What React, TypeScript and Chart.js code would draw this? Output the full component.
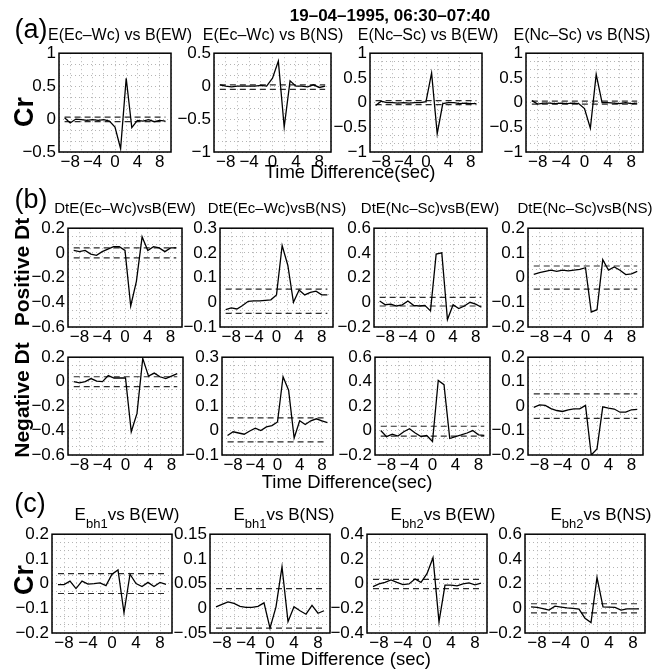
import React, { useEffect, useRef } from "react";
import { Chart, registerables } from "chart.js";
Chart.register(...registerables);

const FONT = "'Liberation Sans', Arial, Helvetica, sans-serif";

// ---- data ----
const LAGS = [-9, -8, -7, -6, -5, -4, -3, -2, -1, 0, 1, 2, 3, 4, 5, 6, 7, 8, 9];
const X_GRID = [-10, -8, -6, -4, -2, 0, 2, 4, 6, 8, 10];
const X_TICK_LABELS = [-8, -4, 0, 4, 8];

const MAIN_TITLE = "19–04–1995, 06:30–07:40";

// (a) cross-correlation
const A1 = [0.02, -0.06, 0.0, -0.01, -0.02, -0.01, -0.02, -0.01, -0.03, -0.12, -0.45, 0.62, -0.13, -0.02, -0.03, -0.01, -0.04, -0.02, -0.03];
const A2 = [0.02, 0.0, -0.01, 0.0, 0.0, 0.0, 0.0, 0.01, 0.0, 0.12, 0.38, -0.62, 0.08, 0.0, 0.0, -0.01, 0.02, -0.02, 0.0];
const A3 = [-0.06, 0.03, 0.0, 0.0, -0.01, 0.0, -0.01, 0.0, 0.0, 0.02, 0.6, -0.63, -0.02, 0.0, 0.0, -0.02, -0.01, -0.02, -0.02];
const A4 = [0.04, -0.03, -0.01, -0.01, -0.02, -0.01, -0.02, -0.01, -0.02, -0.12, -0.52, 0.57, 0.0, 0.0, -0.01, -0.02, 0.0, -0.02, -0.01];
const SIG_A1 = [0.03, -0.04];
const SIG_A2 = [0.02, -0.05];
const SIG_A3 = [0.04, -0.04];
const SIG_A4 = [0.03, -0.03];

// (b) positive Dt
const BP1 = [0.02, 0.01, 0.02, -0.01, -0.02, 0.01, 0.03, 0.05, 0.05, 0.02, -0.43, -0.23, 0.13, 0.02, 0.05, 0.04, 0.01, 0.04, 0.04];
const BP2 = [-0.03, -0.023, -0.027, -0.013, 0.004, 0.006, 0.006, 0.008, 0.01, 0.03, 0.23, 0.15, 0.0, 0.05, 0.03, 0.04, 0.045, 0.03, 0.03];
const BP3 = [0.01, -0.02, -0.015, -0.03, -0.02, 0.01, -0.025, -0.03, -0.025, -0.07, 0.39, 0.4, -0.14, -0.02, -0.05, -0.03, 0.0, -0.015, -0.04];
const BP4 = [0.013, 0.02, 0.025, 0.03, 0.025, 0.03, 0.027, 0.03, 0.033, 0.04, -0.14, -0.13, 0.073, 0.03, 0.043, 0.03, 0.012, 0.015, 0.025];
const SIG_BP1 = [0.04, -0.04];
const SIG_BP2 = [0.053, -0.045];
const SIG_BP3 = [0.04, -0.03];
const SIG_BP4 = [0.047, -0.047];

// (b) negative Dt
const BN1 = [0.0, -0.01, 0.0, 0.025, 0.005, 0.0, 0.05, 0.03, 0.03, 0.03, -0.41, -0.26, 0.19, 0.045, 0.07, 0.04, 0.025, 0.045, 0.065];
const BN2 = [-0.02, -0.005, -0.01, -0.015, -0.002, 0.01, 0.0, 0.015, 0.02, 0.035, 0.22, 0.165, -0.03, 0.04, 0.025, 0.04, 0.048, 0.04, 0.032];
const BN3 = [0.0, -0.05, -0.03, -0.045, -0.01, 0.015, -0.02, -0.05, -0.04, -0.09, 0.41, 0.375, -0.065, -0.05, -0.036, -0.02, 0.0, -0.035, -0.04];
const BN4 = [-0.005, 0.005, 0.003, -0.01, -0.018, -0.022, -0.015, -0.011, -0.011, 0.003, -0.2, -0.175, -0.003, -0.008, -0.012, -0.025, -0.025, -0.015, -0.013];
const SIG_BN1 = [0.04, -0.04];
const SIG_BN2 = [0.052, -0.046];
const SIG_BN3 = [0.035, -0.045];
const SIG_BN4 = [0.05, -0.05];

// (c)
const C1 = [-0.004, -0.004, 0.01, -0.02, 0.01, -0.002, 0.0, 0.003, -0.008, 0.038, 0.055, -0.118, 0.038, 0.0, -0.012, 0.005, -0.012, 0.005, -0.003];
const C2 = [0.003, 0.008, 0.013, 0.01, 0.004, 0.002, 0.002, 0.004, 0.011, -0.04, 0.003, 0.084, -0.027, 0.003, -0.005, -0.012, 0.006, -0.01, -0.005];
const C3 = [-0.024, -0.003, 0.01, 0.03, 0.01, -0.008, -0.003, 0.037, 0.01, 0.08, 0.21, -0.31, -0.013, -0.012, -0.018, -0.003, 0.005, -0.01, 0.003];
const C4 = [0.012, 0.007, -0.003, -0.015, 0.017, 0.01, 0.004, 0.0, -0.007, -0.08, -0.115, 0.25, 0.012, 0.01, 0.007, -0.015, -0.004, -0.004, -0.004];
const SIG_C1 = [0.04, -0.04];
const SIG_C2 = [0.04, -0.04];
const SIG_C3 = [0.035, -0.04];
const SIG_C4 = [0.037, -0.037];

// y ticks
const YT_A1 = [-0.5, 0, 0.5, 1];
const YL_A1 = ["−0.5", "0", "0.5", "1"];
const YT_A2 = [-1, -0.5, 0, 0.5];
const YL_A2 = ["−1", "−0.5", "0", "0.5"];
const YT_A34 = [-1, -0.5, 0, 0.5, 1];
const YL_A34 = ["−1", "−0.5", "0", "0.5", "1"];
const YT_B1 = [-0.6, -0.4, -0.2, 0, 0.2];
const YL_B1 = ["−0.6", "−0.4", "−0.2", "0", "0.2"];
const YT_B2 = [-0.1, 0, 0.1, 0.2, 0.3];
const YL_B2 = ["−0.1", "0", "0.1", "0.2", "0.3"];
const YT_B3 = [-0.2, 0, 0.2, 0.4, 0.6];
const YL_B3 = ["−0.2", "0", "0.2", "0.4", "0.6"];
const YT_B4 = [-0.2, -0.1, 0, 0.1, 0.2];
const YL_B4 = ["−0.2", "−0.1", "0", "0.1", "0.2"];
const YT_C2 = [-0.05, 0, 0.05, 0.1, 0.15];
const YL_C2 = ["−.05", "0", "0.05", "0.1", "0.15"];
const YT_C3 = [-0.4, -0.2, 0, 0.2, 0.4];
const YL_C3 = ["−0.4", "−0.2", "0", "0.2", "0.4"];

// ---- layout ----
const PAD_L = 52, PAD_T = 12, PAD_R = 12, PAD_B = 24;

type Panel = {
  data: number[]; sig: number[]; yt: number[]; yl: string[];
  left: number; top: number; right: number; bottom: number;
};

const PANELS: Panel[] = [
  { data: A1, sig: SIG_A1, yt: YT_A1, yl: YL_A1, left: 59, right: 171, top: 52, bottom: 152 },
  { data: A2, sig: SIG_A2, yt: YT_A2, yl: YL_A2, left: 214, right: 331, top: 52, bottom: 152 },
  { data: A3, sig: SIG_A3, yt: YT_A34, yl: YL_A34, left: 370, right: 482, top: 52, bottom: 152 },
  { data: A4, sig: SIG_A4, yt: YT_A34, yl: YL_A34, left: 526, right: 643, top: 52, bottom: 152 },
  { data: BP1, sig: SIG_BP1, yt: YT_B1, yl: YL_B1, left: 68, right: 182, top: 227, bottom: 327 },
  { data: BP2, sig: SIG_BP2, yt: YT_B2, yl: YL_B2, left: 220, right: 333, top: 227, bottom: 327 },
  { data: BP3, sig: SIG_BP3, yt: YT_B3, yl: YL_B3, left: 374, right: 487, top: 227, bottom: 327 },
  { data: BP4, sig: SIG_BP4, yt: YT_B4, yl: YL_B4, left: 528, right: 643, top: 227, bottom: 327 },
  { data: BN1, sig: SIG_BN1, yt: YT_B1, yl: YL_B1, left: 68, right: 183, top: 356, bottom: 455 },
  { data: BN2, sig: SIG_BN2, yt: YT_B2, yl: YL_B2, left: 222, right: 333, top: 356, bottom: 455 },
  { data: BN3, sig: SIG_BN3, yt: YT_B3, yl: YL_B3, left: 375, right: 490, top: 356, bottom: 455 },
  { data: BN4, sig: SIG_BN4, yt: YT_B4, yl: YL_B4, left: 528, right: 643, top: 356, bottom: 455 },
  { data: C1, sig: SIG_C1, yt: YT_B4, yl: YL_B4, left: 52, right: 172, top: 533, bottom: 633 },
  { data: C2, sig: SIG_C2, yt: YT_C2, yl: YL_C2, left: 210, right: 330, top: 533, bottom: 633 },
  { data: C3, sig: SIG_C3, yt: YT_C3, yl: YL_C3, left: 367, right: 487, top: 533, bottom: 633 },
  { data: C4, sig: SIG_C4, yt: YT_B3, yl: YL_B3, left: 525, right: 645, top: 533, bottom: 633 },
];

const framePlugin = {
  id: "frame",
  afterDraw(chart: any) {
    const { ctx, chartArea } = chart;
    const { left, top, right, bottom } = chartArea;
    ctx.save();
    ctx.strokeStyle = "#000";
    ctx.lineWidth = 1.5;
    ctx.strokeRect(left, top, right - left, bottom - top);
    ctx.restore();
  },
};

function fmtX(v: number) {
  return v < 0 ? "−" + Math.abs(v) : String(v);
}

function PanelChart({ p }: { p: Panel }) {
  const ref = useRef<HTMLCanvasElement>(null);
  const W = p.right - p.left + PAD_L + PAD_R;
  const H = p.bottom - p.top + PAD_T + PAD_B;
  useEffect(() => {
    const yMin = p.yt[0];
    const yMax = p.yt[p.yt.length - 1];
    const major = p.yt[1] - p.yt[0];
    const nMinor = Math.round((yMax - yMin) / (major / 3));
    const yGrid: number[] = [];
    for (let i = 0; i <= nMinor; i++) yGrid.push(yMin + (i * (yMax - yMin)) / nMinor);
    const x0 = LAGS[0], x1 = LAGS[LAGS.length - 1];
    const chart = new Chart(ref.current!, {
      type: "line",
      data: {
        datasets: [
          {
            data: LAGS.map((x, i) => ({ x, y: p.data[i] })),
            borderColor: "#000",
            borderWidth: 1.3,
            pointRadius: 0,
            tension: 0,
            order: 0,
          },
          {
            data: [{ x: x0, y: p.sig[0] }, { x: x1, y: p.sig[0] }],
            borderColor: "#2a2a2a",
            borderWidth: 1.2,
            borderDash: [6, 4],
            pointRadius: 0,
            order: 1,
          },
          {
            data: [{ x: x0, y: p.sig[1] }, { x: x1, y: p.sig[1] }],
            borderColor: "#2a2a2a",
            borderWidth: 1.2,
            borderDash: [6, 4],
            pointRadius: 0,
            order: 1,
          },
        ],
      },
      options: {
        animation: false,
        responsive: false,
        devicePixelRatio: 1,
        layout: { padding: { left: 0, top: PAD_T, right: PAD_R, bottom: 0 } },
        plugins: { legend: { display: false }, tooltip: { enabled: false }, title: { display: false } },
        scales: {
          x: {
            type: "linear",
            min: -10,
            max: 10,
            afterBuildTicks: (s: any) => {
              s.ticks = X_GRID.map((v) => ({ value: v }));
            },
            afterFit: (s: any) => {
              s.height = PAD_B;
            },
            ticks: {
              autoSkip: false,
              maxRotation: 0,
              minRotation: 0,
              padding: 0,
              color: "#000",
              font: { family: FONT, size: 17 },
              callback: (v: any) => (X_TICK_LABELS.includes(Number(v)) ? fmtX(Number(v)) : ""),
            },
            grid: { color: "#b4b4b4", lineWidth: 1, drawTicks: false },
            border: { display: false, dash: [1, 3] },
          },
          y: {
            type: "linear",
            min: yMin,
            max: yMax,
            afterBuildTicks: (s: any) => {
              s.ticks = yGrid.map((v) => ({ value: v }));
            },
            afterFit: (s: any) => {
              s.width = PAD_L;
            },
            ticks: {
              autoSkip: false,
              padding: 3,
              color: "#000",
              font: { family: FONT, size: 17 },
              callback: (v: any) => {
                const n = Number(v);
                const k = p.yt.findIndex((t) => Math.abs(t - n) < 1e-6);
                return k >= 0 ? p.yl[k] : "";
              },
            },
            grid: { color: "#b4b4b4", lineWidth: 1, drawTicks: false },
            border: { display: false, dash: [1, 3] },
          },
        },
      },
      plugins: [framePlugin],
    } as any);
    return () => chart.destroy();
  }, []);
  return (
    <canvas
      ref={ref}
      width={W}
      height={H}
      style={{
        position: "absolute",
        left: p.left - PAD_L,
        top: p.top - PAD_T,
        width: W,
        height: H,
      }}
    />
  );
}

function Txt({ x, y, size, bold, rotate, children }: any) {
  return (
    <div
      style={{
        position: "absolute",
        left: x,
        top: y,
        transform: `translate(-50%, -50%)${rotate ? " rotate(-90deg)" : ""}`,
        fontFamily: FONT,
        fontSize: size,
        fontWeight: bold ? "bold" : "normal",
        whiteSpace: "nowrap",
        lineHeight: 1,
        color: "#000",
      }}
    >
      {children}
    </div>
  );
}

const SUB_A = ["E(Ec–Wc) vs B(EW)", "E(Ec–Wc) vs B(NS)", "E(Nc–Sc) vs B(EW)", "E(Nc–Sc) vs B(NS)"];
const SUB_B = ["DtE(Ec–Wc)vsB(EW)", "DtE(Ec–Wc)vsB(NS)", "DtE(Nc–Sc)vsB(EW)", "DtE(Nc–Sc)vsB(NS)"];
const SUB_C_IDX = ["bh1", "bh1", "bh2", "bh2"];
const SUB_C_REST = ["vs B(EW)", "vs B(NS)", "vs B(EW)", "vs B(NS)"];
const SUB_A_X = [120, 273, 428, 582];
const SUB_B_X = [125, 277, 430, 585];
const SUB_C_X = [127, 284, 443, 601];

export default function App() {
  return (
    <div style={{ position: "absolute", left: 0, top: 0, width: 664, height: 671, background: "#fff", overflow: "hidden" }}>
      {PANELS.map((p, i) => (
        <PanelChart key={i} p={p} />
      ))}
      <Txt x={390} y={15} size={17} bold>{MAIN_TITLE}</Txt>
      <Txt x={31} y={29} size={27}>(a)</Txt>
      <Txt x={31} y={199} size={27}>(b)</Txt>
      <Txt x={30} y={503} size={27}>(c)</Txt>
      {SUB_A.map((t, i) => (
        <Txt key={"a" + i} x={SUB_A_X[i]} y={35} size={16}>{t}</Txt>
      ))}
      {SUB_B.map((t, i) => (
        <Txt key={"b" + i} x={SUB_B_X[i]} y={207} size={15}>{t}</Txt>
      ))}
      {SUB_C_IDX.map((s, i) => (
        <Txt key={"c" + i} x={SUB_C_X[i]} y={518} size={17}>
          E<sub style={{ fontSize: 13, verticalAlign: "-8px" }}>{s}</sub>{SUB_C_REST[i]}
        </Txt>
      ))}
      <Txt x={350} y={172} size={18.5}>Time Difference(sec)</Txt>
      <Txt x={347} y={482} size={18.5}>Time Difference(sec)</Txt>
      <Txt x={343} y={659} size={18.5}>Time Difference (sec)</Txt>
      <Txt x={24} y={112} size={27} bold rotate>Cr</Txt>
      <Txt x={21} y={272} size={21} bold rotate>Positive Dt</Txt>
      <Txt x={21} y={400} size={21} bold rotate>Negative Dt</Txt>
      <Txt x={24} y={580} size={27} bold rotate>Cr</Txt>
    </div>
  );
}
